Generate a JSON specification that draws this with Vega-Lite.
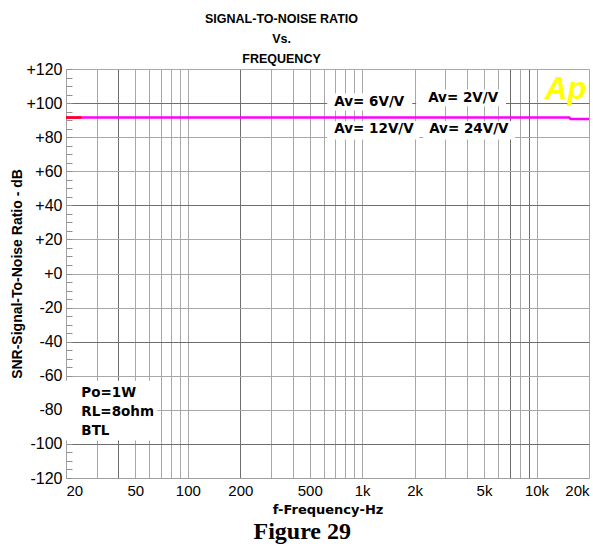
{
  "$schema": "https://vega.github.io/schema/vega-lite/v6.json",
  "background": "white",
  "padding": {"left": 10, "top": 12, "right": 3, "bottom": 5},
  "title": {"text": "Figure 29", "orient": "bottom", "font": "Liberation Serif", "fontSize": 24, "fontWeight": "bold", "color": "black", "anchor": "middle", "offset": 4},
  "datasets": {
    "main": [
      {"f": 20, "db": 91.6},
      {"f": 15400, "db": 91.6},
      {"f": 15700, "db": 90.6},
      {"f": 20000, "db": 90.6}
    ],
    "start": [
      {"f": 20, "db": 91.5},
      {"f": 24.5, "db": 91.5}
    ],
    "boxes": [
      {"f": 630, "f2": 1936, "db": 105.7, "db2": 95.7},
      {"f": 2040, "f2": 6685, "db": 108.0, "db2": 98.1},
      {"f": 630, "f2": 2123, "db": 89.3, "db2": 78.7},
      {"f": 2238, "f2": 7532, "db": 89.3, "db2": 78.7},
      {"f": 20, "f2": 66.9, "db": -63, "db2": -98}
    ],
    "labels": [
      {"f": 692, "db": 100.7, "label": "Av= 6V/V"},
      {"f": 2390, "db": 103.0, "label": "Av= 2V/V"},
      {"f": 692, "db": 84.9, "label": "Av= 12V/V"},
      {"f": 2421, "db": 84.9, "label": "Av= 24V/V"},
      {"f": 24.5, "db": -69.9, "label": "Po=1W"},
      {"f": 24.5, "db": -81.0, "label": "RL=8ohm"},
      {"f": 24.5, "db": -92.2, "label": "BTL"}
    ],
    "logo": [
      {"f": 14700, "db": 102.5, "label": "Ap"}
    ]
  },
  "vconcat": [
    {
      "width": 523,
      "height": 409,
      "title": {"text": ["SIGNAL-TO-NOISE RATIO", "Vs.", "FREQUENCY"], "font": "Liberation Sans", "fontSize": 12.5, "fontWeight": "bold", "color": "black", "lineHeight": 20, "anchor": "middle", "frame": "group", "dx": -46, "offset": -4},
      "layer": [
        {
          "data": {"name": "boxes"},
          "mark": {"type": "rect", "fill": "white", "stroke": null},
          "encoding": {
            "x": {
              "field": "f", "type": "quantitative",
              "scale": {"type": "log", "domain": [20, 20000], "nice": false},
              "axis": {
                "title": "f-Frequency-Hz",
                "titleFont": "DejaVu Sans", "titleFontSize": 13, "titleFontWeight": "bold", "titleColor": "black", "titlePadding": 5,
                "values": [20, 30, 40, 50, 60, 70, 80, 90, 100, 200, 300, 400, 500, 600, 700, 800, 900, 1000, 2000, 3000, 4000, 5000, 6000, 7000, 8000, 9000, 10000, 20000],
                "tickCount": 1000,
                "labelExpr": "indexof([20,50,100,200,500,1000,2000,5000,10000,20000], datum.value) >= 0 ? (datum.value >= 1000 ? (datum.value / 1000) + 'k' : '' + datum.value) : ''",
                "labelFont": "Liberation Sans", "labelFontSize": 15, "labelColor": "black", "labelPadding": 5,
                "labelFlush": true, "labelOverlap": false,
                "ticks": false,
                "grid": true,
                "gridColor": {"condition": {"test": "datum.value == 40 || datum.value == 200 || datum.value == 7000 || datum.value == 9000", "value": "#6e6e6e"}, "value": "#a8a8a8"},
                "gridWidth": 1,
                "domainColor": "#a0a0a0"
              }
            },
            "x2": {"field": "f2"},
            "y": {
              "field": "db", "type": "quantitative",
              "scale": {"domain": [-120, 120], "nice": false, "zero": false},
              "axis": {
                "title": "SNR-Signal-To-Noise Ratio - dB",
                "titleFont": "Liberation Sans", "titleFontSize": 14, "titleFontWeight": "bold", "titleColor": "black", "titlePadding": 1.5,
                "values": [-120, -115, -110, -105, -100, -95, -90, -85, -80, -75, -70, -65, -60, -55, -50, -45, -40, -35, -30, -25, -20, -15, -10, -5, 0, 5, 10, 15, 20, 25, 30, 35, 40, 45, 50, 55, 60, 65, 70, 75, 80, 85, 90, 95, 100, 105, 110, 115, 120],
                "tickCount": 1000,
                "labelExpr": "datum.value % 20 == 0 ? (datum.value >= 0 ? '+' + datum.value : '' + datum.value) : ''",
                "labelFont": "Liberation Sans", "labelFontSize": 16, "labelColor": "black", "labelPadding": 10,
                "labelOverlap": false,
                "ticks": true, "tickSize": -6, "tickColor": "#909090",
                "grid": true,
                "gridColor": {"condition": {"test": "abs(datum.value) == 100 || abs(datum.value) == 40", "value": "#6e6e6e"}, "value": "#a8a8a8"},
                "gridOpacity": {"condition": {"test": "datum.value % 20 == 0", "value": 1}, "value": 0},
                "gridWidth": 1,
                "domainColor": "#a0a0a0"
              }
            },
            "y2": {"field": "db2"}
          }
        },
        {
          "data": {"name": "main"},
          "mark": {"type": "line", "color": "#ff00ff", "strokeWidth": 2.5},
          "encoding": {
            "x": {"field": "f", "type": "quantitative", "scale": {"type": "log", "domain": [20, 20000], "nice": false}},
            "y": {"field": "db", "type": "quantitative", "scale": {"domain": [-120, 120], "nice": false, "zero": false}}
          }
        },
        {
          "data": {"name": "start"},
          "mark": {"type": "line", "color": "#ff0000", "strokeWidth": 2.5},
          "encoding": {
            "x": {"field": "f", "type": "quantitative", "scale": {"type": "log", "domain": [20, 20000], "nice": false}},
            "y": {"field": "db", "type": "quantitative", "scale": {"domain": [-120, 120], "nice": false, "zero": false}}
          }
        },
        {
          "data": {"name": "labels"},
          "mark": {"type": "text", "align": "left", "baseline": "middle", "font": "DejaVu Sans", "fontSize": 13.5, "fontWeight": "bold", "color": "black"},
          "encoding": {
            "x": {"field": "f", "type": "quantitative", "scale": {"type": "log", "domain": [20, 20000], "nice": false}},
            "y": {"field": "db", "type": "quantitative", "scale": {"domain": [-120, 120], "nice": false, "zero": false}},
            "text": {"field": "label"}
          }
        },
        {
          "data": {"name": "logo"},
          "mark": {"type": "text", "align": "center", "baseline": "alphabetic", "font": "Liberation Sans", "fontSize": 31, "fontWeight": "bold", "fontStyle": "italic", "color": "#ffff00"},
          "encoding": {
            "x": {"field": "f", "type": "quantitative", "scale": {"type": "log", "domain": [20, 20000], "nice": false}},
            "y": {"field": "db", "type": "quantitative", "scale": {"domain": [-120, 120], "nice": false, "zero": false}},
            "text": {"field": "label"}
          }
        }
      ]
    }
  ],
  "config": {"view": {"stroke": null}}
}
